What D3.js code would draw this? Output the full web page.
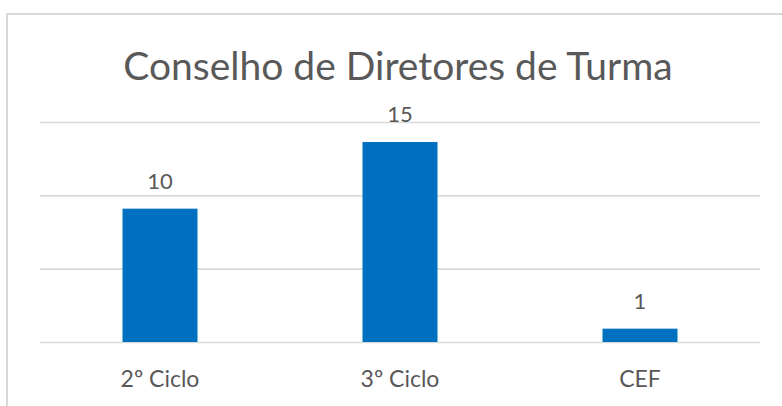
<!DOCTYPE html>
<html>
<head>
<meta charset="utf-8">
<script src="https://cdn.jsdelivr.net/npm/d3@7"></script>
<style>
  body { margin: 0; background: #fff; }
  text { font-family: Lato, "Open Sans", sans-serif; fill: #595959; }
</style>
</head>
<body>
<div id="chart"></div>
<script>
// datos
var categories = ["2º Ciclo", "3º Ciclo", "CEF"];
var values = [10, 15, 1];
var gridValues = [0, 5.5, 11, 16.5];
var title = "Conselho de Diretores de Turma";

// dimensions
var width = 782,
    height = 406;
var margin = {top: 122, right: 22, bottom: 64, left: 40};
var widthp = width - margin.left - margin.right;
var heightp = height - margin.top - margin.bottom;

var svg = d3.select("#chart")
            .append("svg")
            .attr("width", width)
            .attr("height", height);

// chart area border
svg.append("rect")
   .attr("x", 7)
   .attr("y", 14)
   .attr("width", width + 20)
   .attr("height", height + 20)
   .attr("fill", "#fff")
   .attr("stroke", "#d9d9d9")
   .attr("stroke-width", 2);

// title
svg.append("text")
   .attr("x", 398)
   .attr("y", 80)
   .attr("text-anchor", "middle")
   .style("font-size", "39px")
   .text(title);

var g = svg.append("g")
           .attr("transform", "translate(" + margin.left + "," + margin.top + ")");

var xScale = d3.scaleBand()
               .domain(categories)
               .range([0, widthp])
               .paddingInner(0.6875)
               .paddingOuter(0.34375);
var yScale = d3.scaleLinear()
               .domain([0, d3.max(gridValues)])
               .range([heightp, 0]);

// gridlines
g.append("g")
 .attr("class", "grid")
 .call(d3.axisLeft(yScale).tickValues(gridValues).tickSize(-widthp).tickFormat(""))
 .call(function(s) {
   s.select(".domain").remove();
   s.selectAll(".tick line").attr("stroke", "#d9d9d9").attr("stroke-width", 1.6);
 });

// bars
g.selectAll("rect.bar")
 .data(values)
 .enter()
 .append("rect")
 .attr("class", "bar")
 .attr("x", function(d, i) { return xScale(categories[i]); })
 .attr("y", function(d) { return yScale(d); })
 .attr("width", xScale.bandwidth())
 .attr("height", function(d) { return heightp - yScale(d); })
 .attr("fill", "#0070c0");

// value labels
g.selectAll("text.val")
 .data(values)
 .enter()
 .append("text")
 .attr("class", "val")
 .attr("x", function(d, i) { return xScale(categories[i]) + xScale.bandwidth() / 2; })
 .attr("y", function(d) { return yScale(d) - 20; })
 .attr("text-anchor", "middle")
 .style("font-size", "22px")
 .text(function(d) { return d; });

// x axis labels
g.append("g")
 .attr("transform", "translate(0," + heightp + ")")
 .call(d3.axisBottom(xScale).tickSize(0).tickPadding(45))
 .call(function(s) {
   s.select(".domain").remove();
   s.selectAll(".tick text")
    .attr("dy", 0)
    .style("font-size", "23px")
    .style("font-family", "Lato, 'Open Sans', sans-serif")
    .attr("fill", "#595959");
 });
</script>
</body>
</html>
